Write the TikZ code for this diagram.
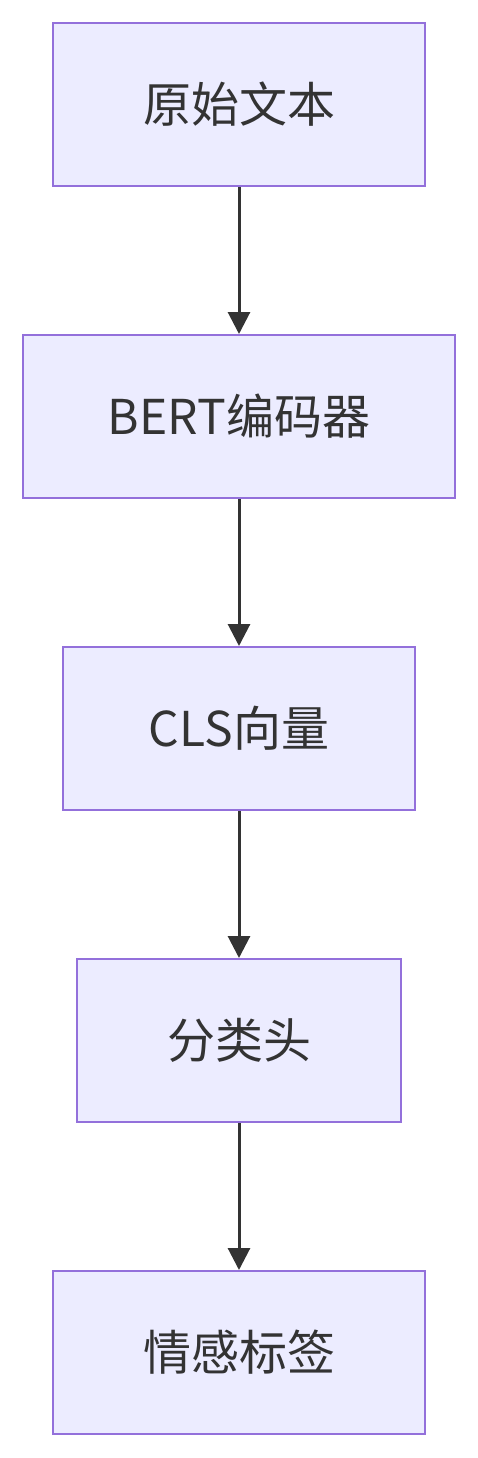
\documentclass[tikz,border=0pt]{standalone}
\usepackage{fontspec}
\setmainfont{Noto Sans CJK SC}
\usetikzlibrary{arrows.meta}
\definecolor{nodefill}{HTML}{ECECFF}
\definecolor{nodeline}{HTML}{9370DB}
\definecolor{ink}{HTML}{333333}
\begin{document}
\begin{tikzpicture}[x=1pt,y=-1pt,
  box/.style={draw=nodeline,fill=nodefill,line width=2pt,inner sep=0pt,text=ink,font=\fontsize{48}{56}\selectfont},
  conn/.style={draw=ink,line width=3pt,-{Triangle[length=22pt,width=22pt]}}]
\useasboundingbox (0,0) rectangle (478,1458);
\node[box,minimum width=372pt,minimum height=163pt] (a) at (239,104.5) {原始文本};
\node[box,minimum width=432pt,minimum height=163pt] (b) at (239,416.5) {BERT编码器};
\node[box,minimum width=352pt,minimum height=163pt] (c) at (239,728.5) {CLS向量};
\node[box,minimum width=324pt,minimum height=163pt] (d) at (239,1040.5) {分类头};
\node[box,minimum width=372pt,minimum height=163pt] (e) at (239,1352.5) {情感标签};
\draw[conn] (a) -- (b);
\draw[conn] (b) -- (c);
\draw[conn] (c) -- (d);
\draw[conn] (d) -- (e);
\end{tikzpicture}
\end{document}
